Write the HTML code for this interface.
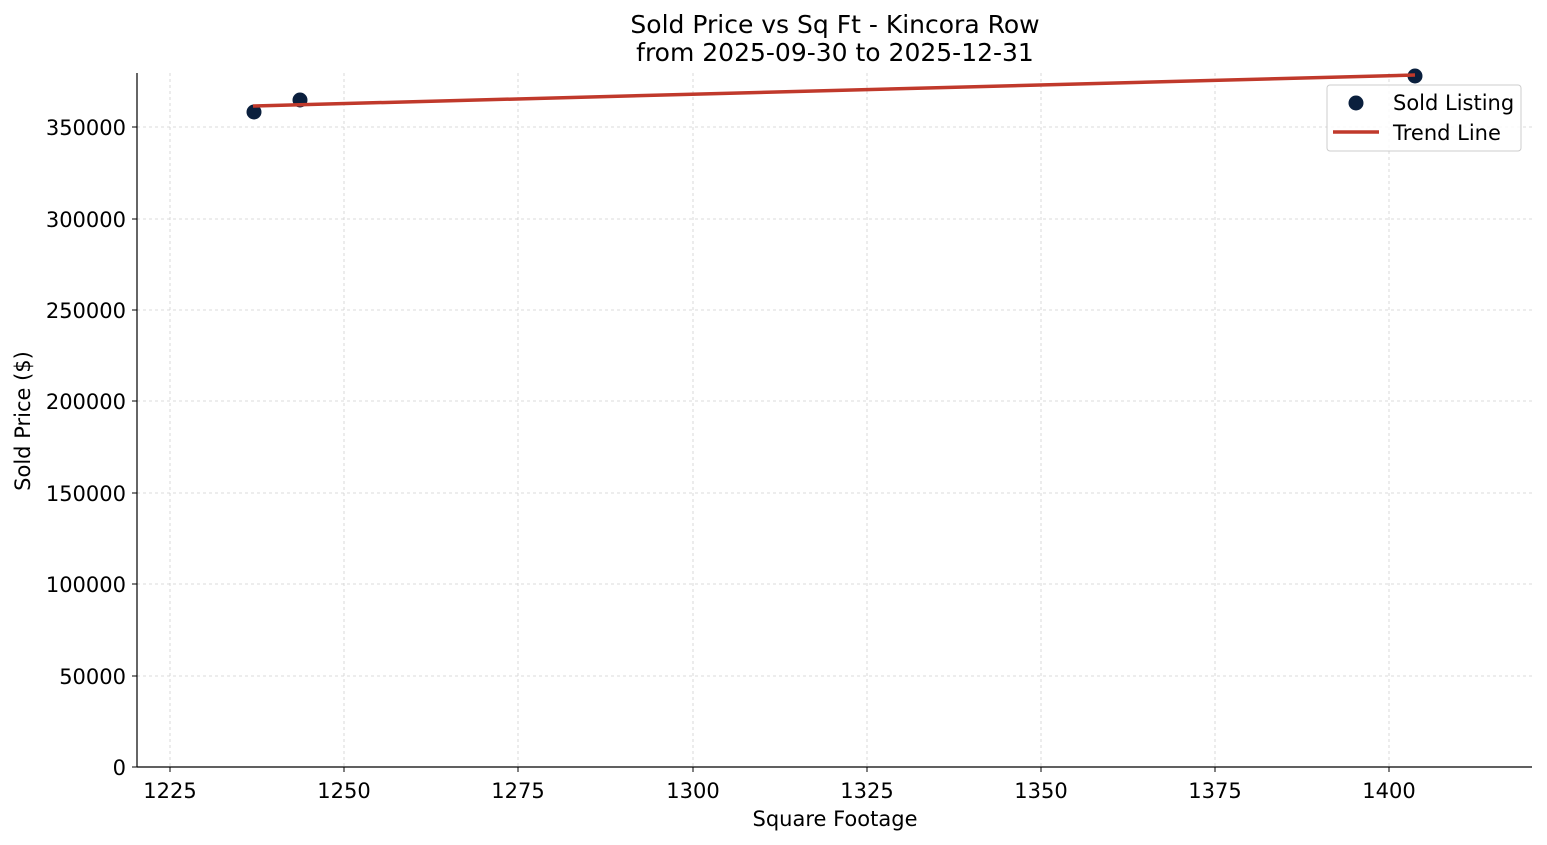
<!DOCTYPE html>
<html><head><meta charset="utf-8"><style>body{margin:0;background:#fff}svg{display:block;font-family:"DejaVu Sans",sans-serif}</style></head>
<body><svg width="1547" height="845" viewBox="0 0 1547 845">
<g stroke="#d0d0d0" stroke-width="0.8" stroke-dasharray="3,3">
<line x1="170" y1="73" x2="170" y2="767"/><line x1="344" y1="73" x2="344" y2="767"/><line x1="518" y1="73" x2="518" y2="767"/><line x1="693" y1="73" x2="693" y2="767"/><line x1="867" y1="73" x2="867" y2="767"/><line x1="1041" y1="73" x2="1041" y2="767"/><line x1="1215" y1="73" x2="1215" y2="767"/><line x1="1389" y1="73" x2="1389" y2="767"/>
<line x1="137" y1="676" x2="1532" y2="676"/><line x1="137" y1="584" x2="1532" y2="584"/><line x1="137" y1="493" x2="1532" y2="493"/><line x1="137" y1="401" x2="1532" y2="401"/><line x1="137" y1="310" x2="1532" y2="310"/><line x1="137" y1="219" x2="1532" y2="219"/><line x1="137" y1="127" x2="1532" y2="127"/>
</g>
<g stroke="#000" stroke-width="1.2"><line x1="137" y1="73" x2="137" y2="767"/><line x1="137" y1="767" x2="1532" y2="767"/>
<g stroke-width="1"><line x1="170" y1="767" x2="170" y2="772"/><line x1="344" y1="767" x2="344" y2="772"/><line x1="518" y1="767" x2="518" y2="772"/><line x1="693" y1="767" x2="693" y2="772"/><line x1="867" y1="767" x2="867" y2="772"/><line x1="1041" y1="767" x2="1041" y2="772"/><line x1="1215" y1="767" x2="1215" y2="772"/><line x1="1389" y1="767" x2="1389" y2="772"/>
<line x1="132" y1="767" x2="137" y2="767"/><line x1="132" y1="676" x2="137" y2="676"/><line x1="132" y1="584" x2="137" y2="584"/><line x1="132" y1="493" x2="137" y2="493"/><line x1="132" y1="401" x2="137" y2="401"/><line x1="132" y1="310" x2="137" y2="310"/><line x1="132" y1="219" x2="137" y2="219"/><line x1="132" y1="127" x2="137" y2="127"/></g></g>
<g font-size="21" text-anchor="middle" fill="#000">
<text x="170" y="798">1225</text><text x="344" y="798">1250</text><text x="518" y="798">1275</text><text x="693" y="798">1300</text><text x="867" y="798">1325</text><text x="1041" y="798">1350</text><text x="1215" y="798">1375</text><text x="1389" y="798">1400</text>
<text x="835" y="826">Square Footage</text>
<text x="835" y="33" font-size="25">Sold Price vs Sq Ft - Kincora Row</text>
<text x="835" y="61" font-size="25">from 2025-09-30 to 2025-12-31</text>
</g>
<g font-size="21" text-anchor="end"><text x="126" y="775">0</text><text x="126" y="684">50000</text><text x="126" y="592">100000</text><text x="126" y="501">150000</text><text x="126" y="409">200000</text><text x="126" y="318">250000</text><text x="126" y="227">300000</text><text x="126" y="135">350000</text></g>
<text transform="translate(30,421) rotate(-90)" font-size="21" text-anchor="middle">Sold Price ($)</text>
<g fill="#0a1f3d"><circle cx="254" cy="112" r="7.5"/><circle cx="300" cy="100" r="7.5"/><circle cx="1415" cy="76" r="7.5"/></g>
<line x1="253" y1="106" x2="1415" y2="75" stroke="#c0392b" stroke-width="3.5"/>
<rect x="1327" y="85" width="194" height="66" rx="3" fill="#fff" fill-opacity="0.85" stroke="#ccc"/>
<circle cx="1356" cy="103" r="7.5" fill="#0a1f3d"/>
<line x1="1333" y1="132" x2="1379" y2="132" stroke="#c0392b" stroke-width="3.5"/>
<g font-size="21"><text x="1393" y="110">Sold Listing</text><text x="1393" y="140">Trend Line</text></g>
</svg></body></html>
